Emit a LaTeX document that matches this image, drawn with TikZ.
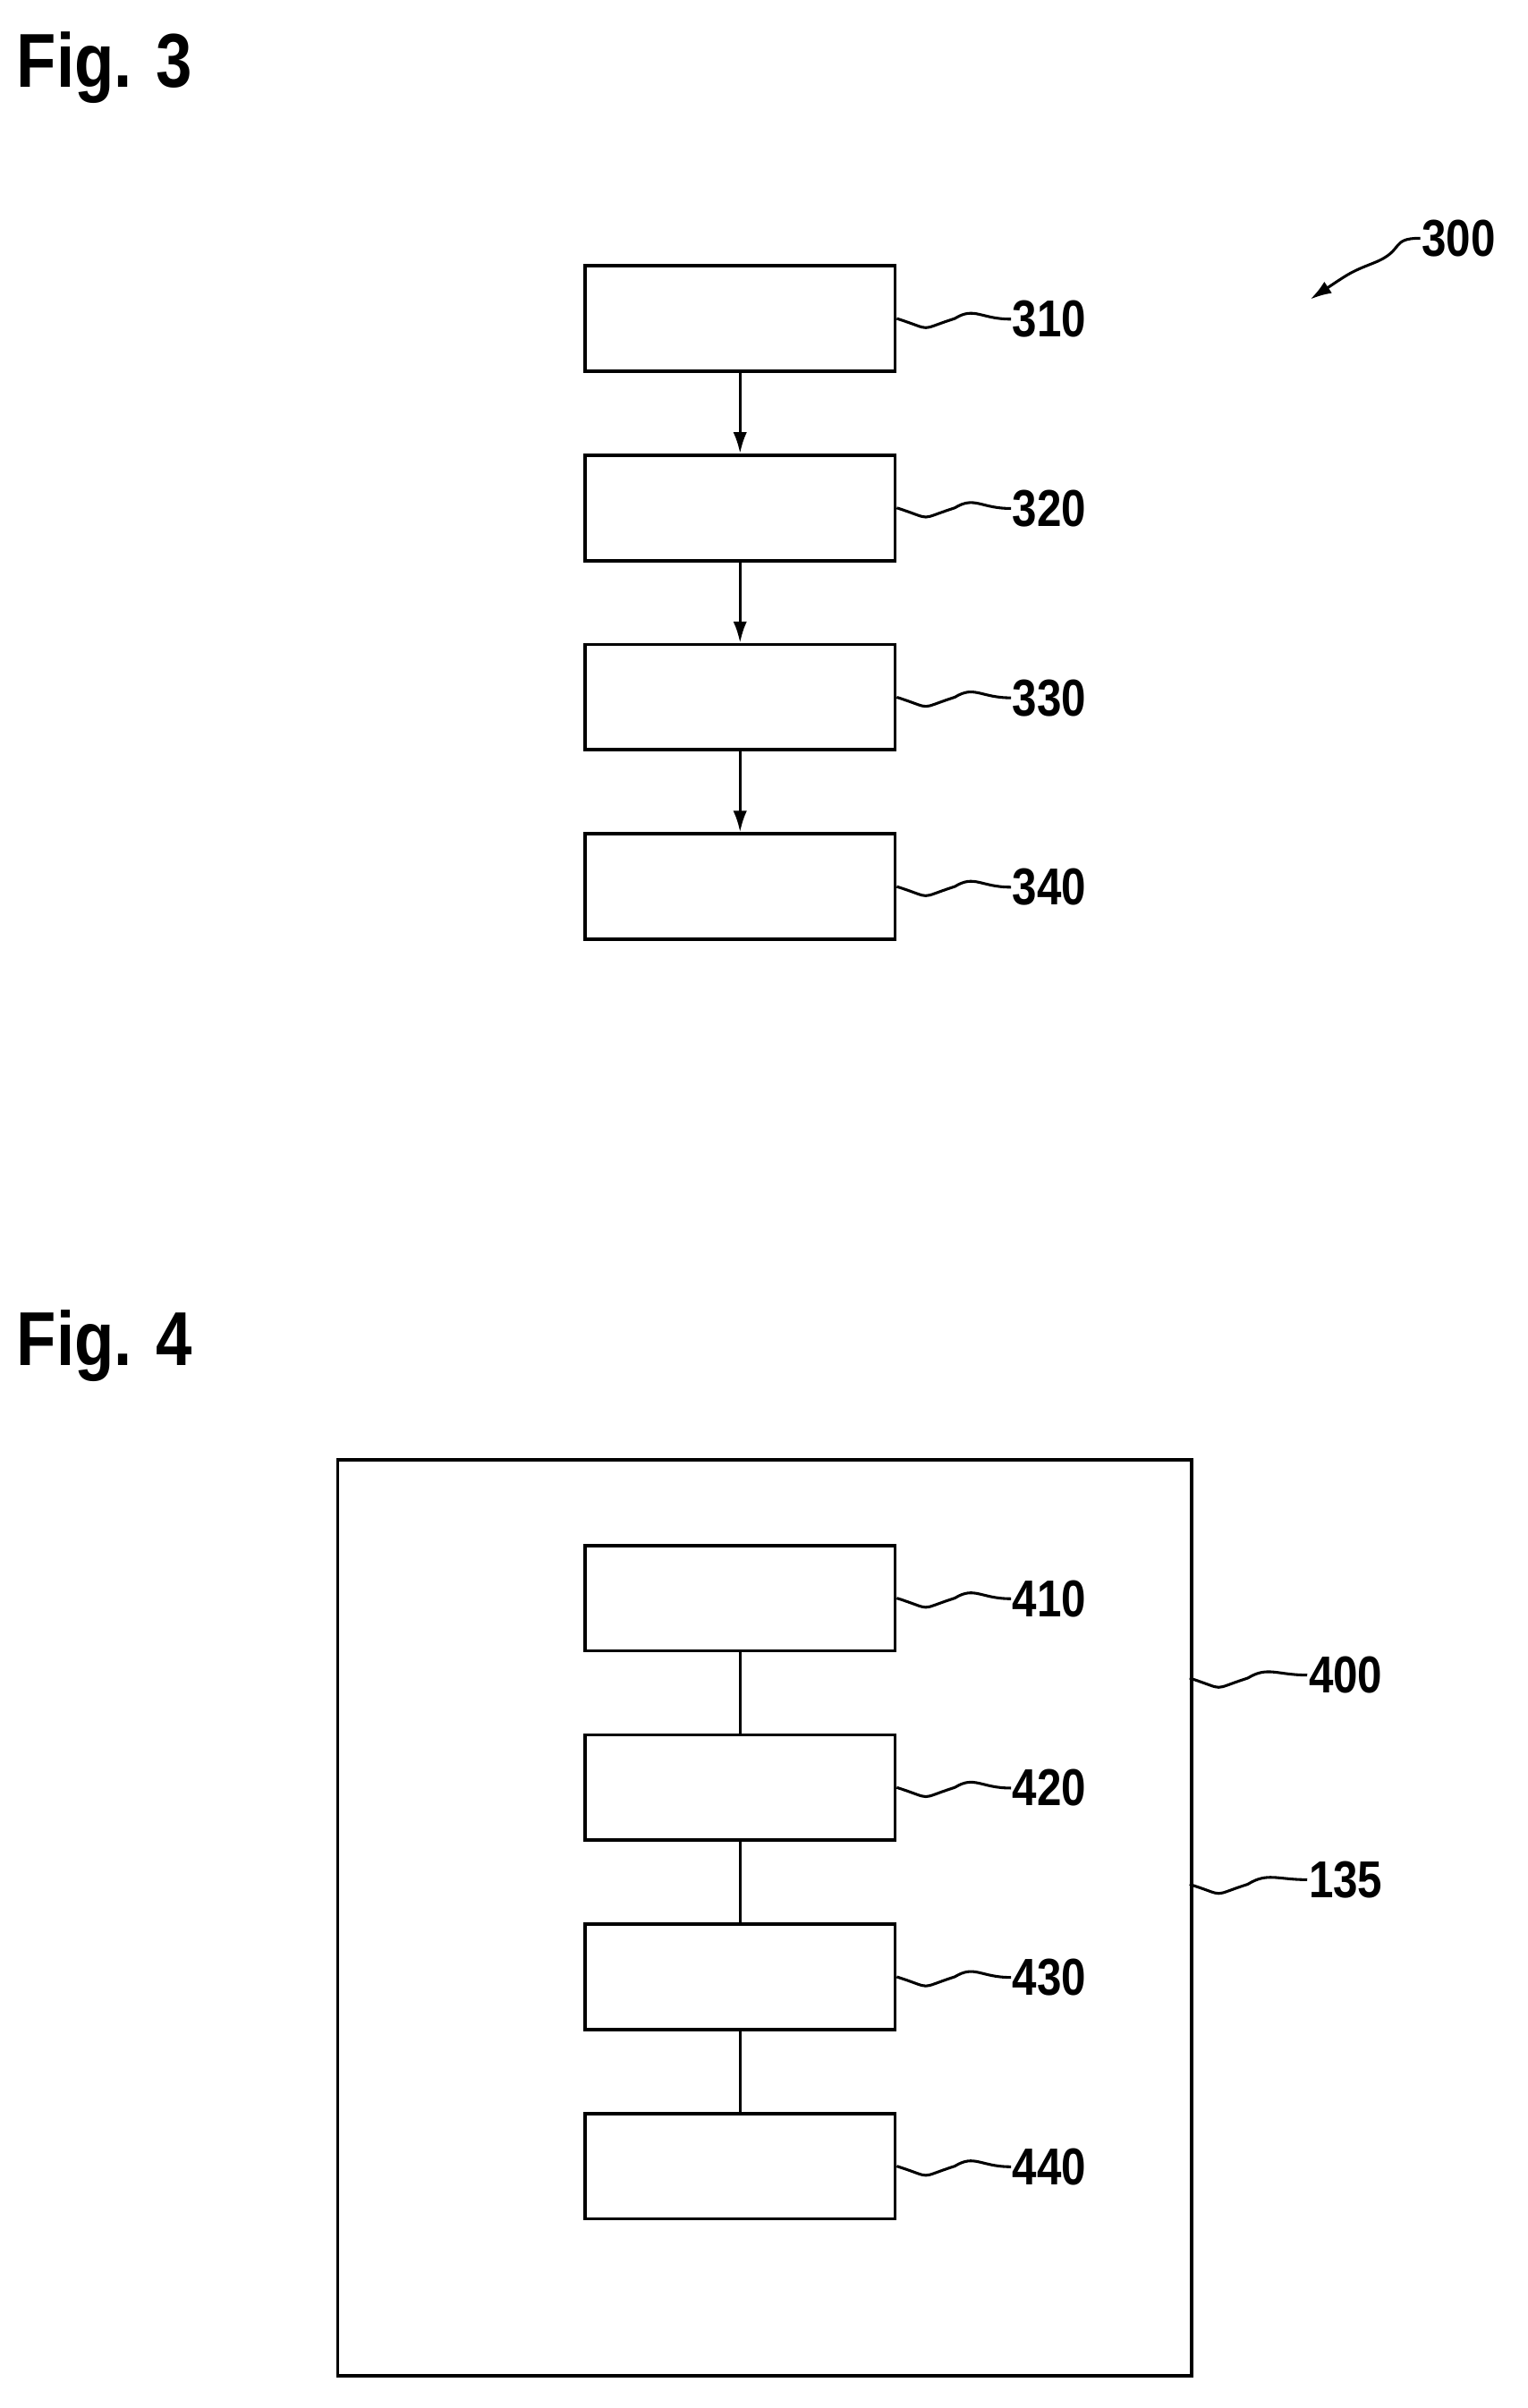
\documentclass[tikz,border=0pt]{standalone}
\usepackage{fontspec}
\setmainfont{Liberation Sans}
\begin{document}
\begin{tikzpicture}[x=1pt,y=-1pt,line width=2.2pt,
 box/.style={draw,minimum width=203pt,minimum height=69pt,anchor=north west,inner sep=0pt},
 lbl/.style={anchor=west,inner sep=0pt,font=\fontsize{34}{34}\bfseries\addfontfeature{FakeStretch=0.85}},
 fig/.style={anchor=north west,inner sep=0pt,font=\fontsize{50}{50}\bfseries\addfontfeature{FakeStretch=0.85}},
 sq/.style={line width=1.8pt},
 arr/.style={-{Latex[length=14pt,width=9pt]}}]
\usetikzlibrary{arrows.meta}
\useasboundingbox (0,0) rectangle (1000,1577);
\node[fig] (f3) at (10,20) {Fig. 3};
\foreach \n/\y in {310/173,320/297,330/421,340/545}{
  \node[box] (b\n) at (382,\y) {};
  \node[lbl] (l\n) at (662,\y+36) {\n};
  \draw[sq] (b\n.east) .. controls +(25,8) and +(-25,8) .. +(38,0) .. controls +(13,-8) and +(-20,0) .. (l\n.west);
}
\foreach \a/\b in {310/320,320/330,330/340}{\draw[arr,line width=1.8pt] (b\a) -- (b\b);}
\node[lbl] (l300) at (930,156) {300};
\coordinate (t300) at (858,196);
\draw[sq,arr] (l300.west) .. controls +(-20,0) and +(20,-8) .. (900,172) .. controls +(-15,6) .. (t300);
\node[fig] (f4) at (10,857) {Fig. 4};
\node[draw,minimum width=559pt,minimum height=600pt,anchor=north west,inner sep=0pt] (outer) at (220,955) {};
\foreach \n/\y in {410/1011,420/1135,430/1259,440/1383}{
  \node[box] (b\n) at (382,\y) {};
  \node[lbl] (l\n) at (662,\y+36) {\n};
  \draw[sq] (b\n.east) .. controls +(25,8) and +(-25,8) .. +(38,0) .. controls +(13,-8) and +(-20,0) .. (l\n.west);
}
\foreach \a/\b in {410/420,420/430,430/440}{\draw[line width=1.8pt] (b\a) -- (b\b);}
\coordinate (e400) at (779,1099);
\coordinate (e135) at (779,1234);
\node[lbl] (l400) at (856,1097) {400};
\node[lbl] (l135) at (856,1231) {135};
\draw[sq] (e400) .. controls +(25,8) and +(-25,8) .. +(38,0) .. controls +(13,-8) and +(-20,0) .. (l400.west);
\draw[sq] (e135) .. controls +(25,8) and +(-25,8) .. +(38,0) .. controls +(13,-8) and +(-20,0) .. (l135.west);
\end{tikzpicture}
\end{document}
